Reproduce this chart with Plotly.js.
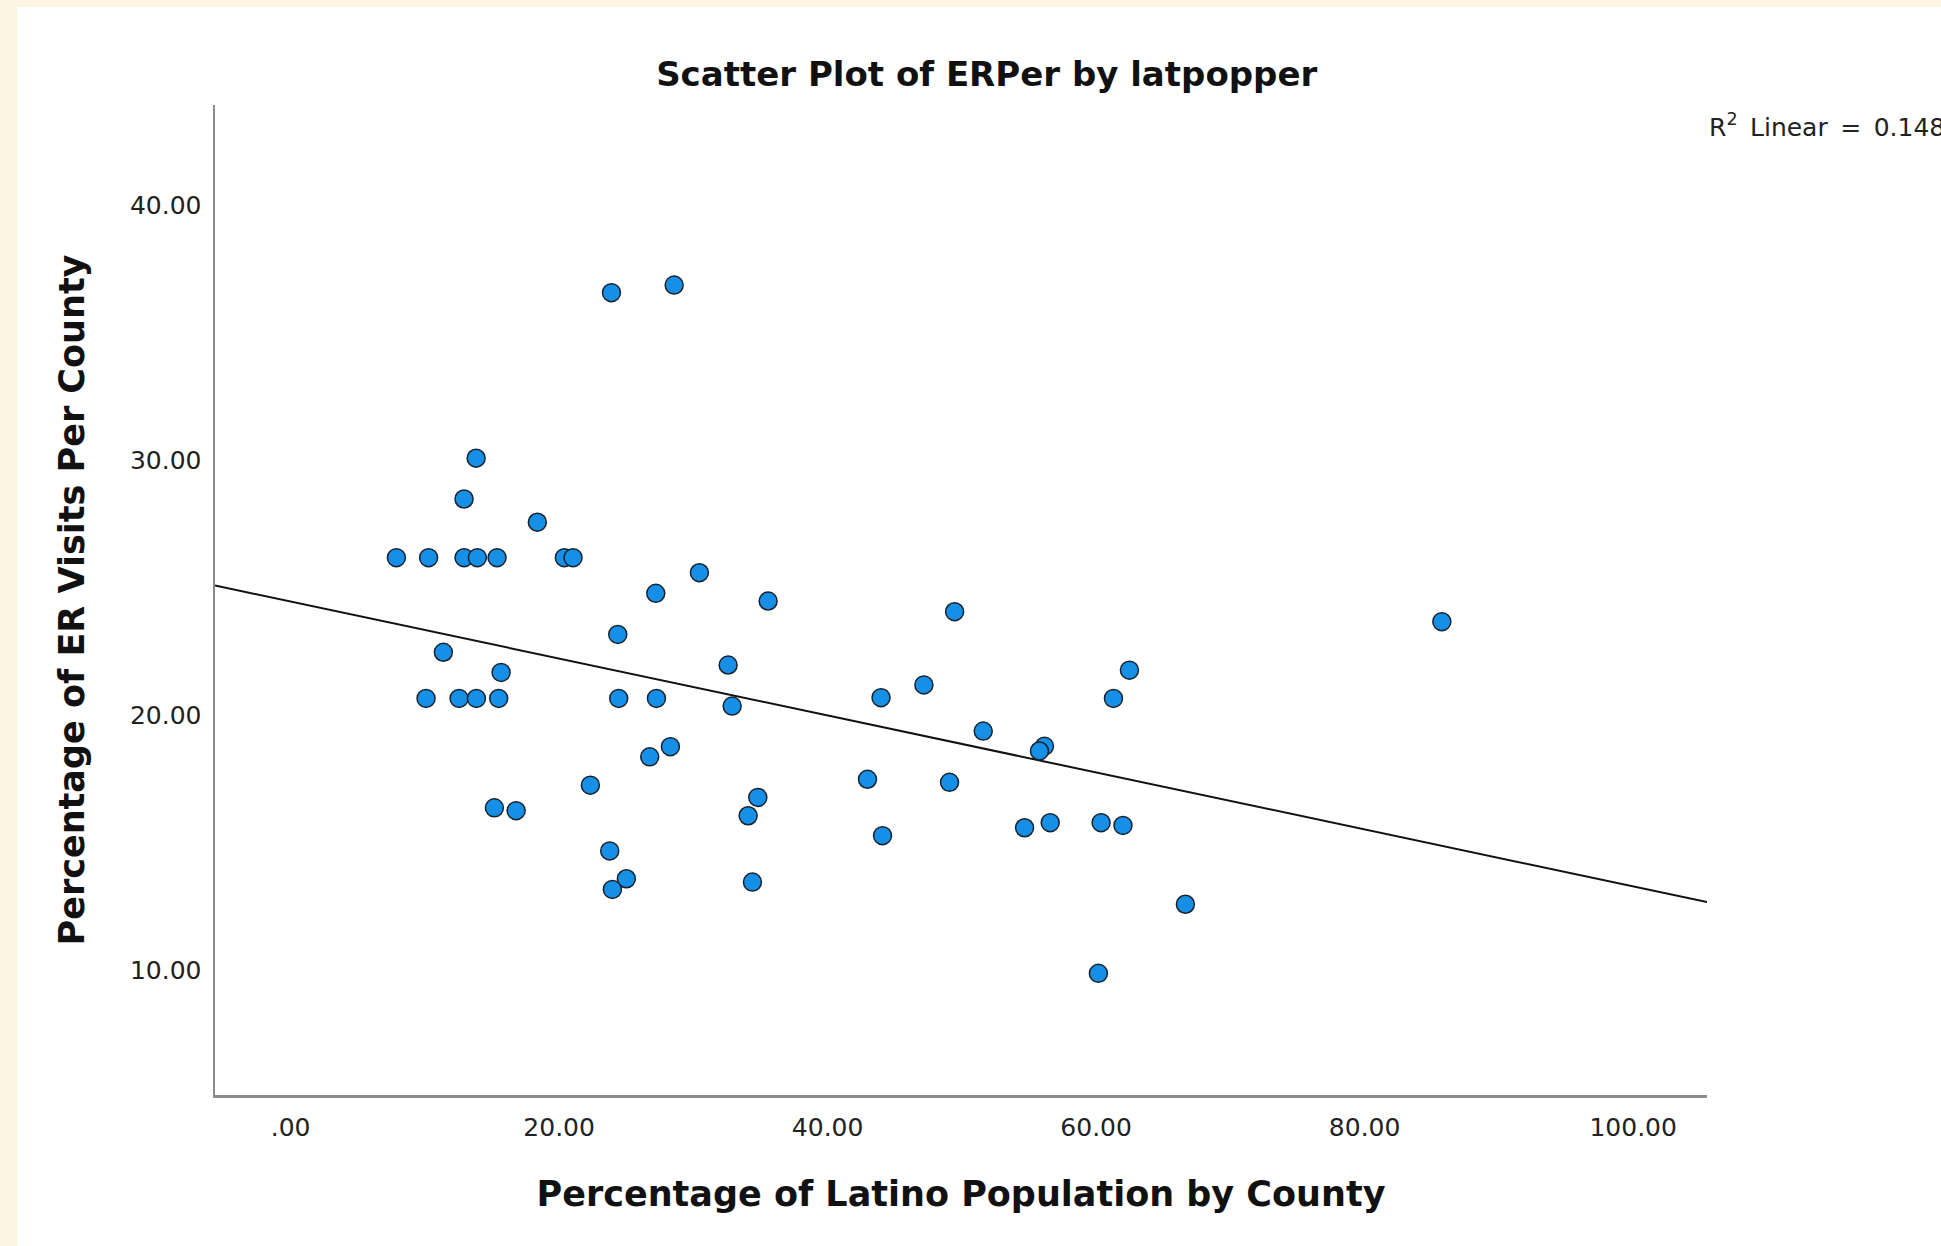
<!DOCTYPE html>
<html>
<head>
<meta charset="utf-8">
<script src="https://cdn.plot.ly/plotly-3.0.1.min.js"></script>
<style>
  html, body { margin: 0; padding: 0; background: #fef4e3; width: 1941px; height: 1246px; overflow: hidden; }
  #chart { position: absolute; left: 17px; top: 7px; width: 1924px; height: 1239px; background: #ffffff; }
</style>
</head>
<body>
<div id="chart"></div>
<script>
// Percentage of Latino Population by County (x)
const latinoPct = [7.88, 10.28, 12.92, 13.91, 15.38, 20.39, 21.04,
  23.90, 28.57, 13.82, 12.92, 18.38,
  30.45, 27.20, 35.57, 24.37, 11.38, 32.59, 15.68,
  10.09, 12.55, 13.84, 15.50, 24.44, 27.25, 43.98, 32.89,
  28.29, 26.75, 22.33, 42.97, 34.80, 34.08, 15.18, 16.80, 23.77, 25.01, 23.97, 34.40,
  49.46, 62.48, 61.29, 47.17, 51.59, 56.15, 55.78, 49.08, 44.09, 54.67, 56.58, 60.37, 62.00, 66.65, 60.17, 85.75];
// Percentage of ER Visits Per County (y)
const erPct = [26.17, 26.17, 26.17, 26.17, 26.17, 26.17, 26.17,
  36.56, 36.86, 30.07, 28.47, 27.56,
  25.58, 24.77, 24.47, 23.16, 22.46, 21.96, 21.67,
  20.65, 20.65, 20.65, 20.65, 20.65, 20.65, 20.68, 20.35,
  18.76, 18.36, 17.25, 17.48, 16.77, 16.05, 16.36, 16.25, 14.67, 13.58, 13.16, 13.45,
  24.05, 21.76, 20.65, 21.18, 19.37, 18.78, 18.59, 17.36, 15.27, 15.58, 15.78, 15.78, 15.67, 12.58, 9.87, 23.66];

// Linear fit
const fitIntercept = 24.45;
const fitSlope = -0.1117;
const rSquared = 0.148;

const xTickVals = [0, 20, 40, 60, 80, 100];
const xTickText = ['.00', '20.00', '40.00', '60.00', '80.00', '100.00'];
const yTickVals = [10, 20, 30, 40];
const yTickText = ['10.00', '20.00', '30.00', '40.00'];

const xRange = [-5.63, 105.5];
const yRange = [5.1, 43.92];

const fitX = xRange.slice();
const fitY = fitX.map(function (v) { return fitIntercept + fitSlope * v; });

const traces = [
  {
    type: 'scatter', mode: 'lines', x: fitX, y: fitY,
    line: { color: '#111111', width: 2 }, hoverinfo: 'skip', showlegend: false
  },
  {
    type: 'scatter', mode: 'markers', x: latinoPct, y: erPct,
    marker: { size: 18, color: '#1590e6', line: { color: '#16222e', width: 1.5 } },
    showlegend: false
  }
];

const tickFont = { family: 'DejaVu Sans', size: 25, color: '#222222' };
const titleFont = { family: 'DejaVu Sans', size: 34, color: '#111111', weight: 700 };
const axisTitleFont = { family: 'DejaVu Sans', size: 35, color: '#111111', weight: 700 };

const layout = {
  width: 1924, height: 1239,
  paper_bgcolor: '#ffffff', plot_bgcolor: '#ffffff',
  margin: { l: 198, r: 234, t: 98, b: 151 },
  title: {
    text: 'Scatter Plot of ERPer by latpopper',
    font: titleFont,
    xref: 'container', x: 0.504, xanchor: 'center',
    yref: 'container', y: 0.946, yanchor: 'middle'
  },
  xaxis: {
    range: xRange, tickmode: 'array', tickvals: xTickVals, ticktext: xTickText,
    showgrid: false, zeroline: false, showline: true, linecolor: '#8c8c8c', linewidth: 2.5,
    ticks: '', ticklabelstandoff: 8, tickfont: tickFont,
    title: { text: 'Percentage of Latino Population by County', font: axisTitleFont, standoff: 41 }
  },
  yaxis: {
    range: yRange, tickmode: 'array', tickvals: yTickVals, ticktext: yTickText,
    showgrid: false, zeroline: false, showline: true, linecolor: '#8c8c8c', linewidth: 2.5,
    ticks: '', ticklabelstandoff: 6, tickfont: tickFont,
    title: { text: 'Percentage of ER Visits Per County', font: axisTitleFont, standoff: 35 }
  },
  annotations: [
    {
      xref: 'paper', yref: 'paper', x: 1, y: 1, xanchor: 'left', yanchor: 'middle',
      xshift: 0, yshift: -20,
      text: 'R<sup>2</sup>\u2002Linear\u2002=\u2002' + rSquared.toFixed(3),
      showarrow: false, align: 'left',
      font: { family: 'DejaVu Sans', size: 25, color: '#222222' }
    }
  ]
};

Plotly.newPlot('chart', traces, layout, { displayModeBar: false, staticPlot: true });
</script>
</body>
</html>
